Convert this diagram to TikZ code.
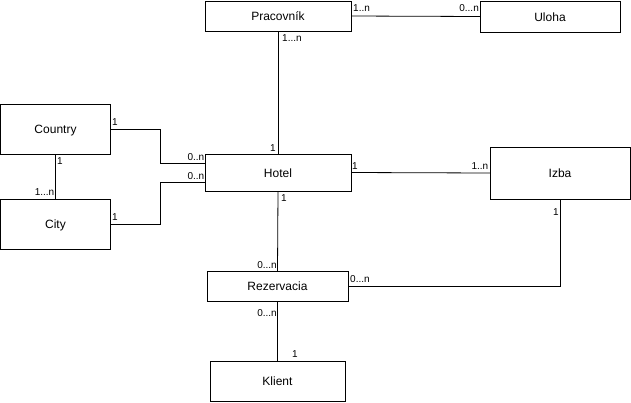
\documentclass[tikz,border=0pt]{standalone}
\usepackage{fontspec}
\setmainfont{Liberation Sans}
\tikzset{
	entity/.style={rectangle, draw, line width=0.8pt, inner sep=0pt, outer sep=0pt, text height=9pt, text depth=0pt, font=\fontsize{12}{14}\selectfont},
	mult/.style={inner sep=0pt, font=\fontsize{10}{12}\selectfont},
	link/.style={line width=0.8pt}
}
\begin{document}
	\begin{tikzpicture}[x=1pt, y=-1pt]
		\useasboundingbox (0,0) rectangle (631,402);

		\node[entity, minimum width=146, minimum height=30] (prac) at (278, 16) {Pracovník};
		\node[entity, minimum width=140, minimum height=31] (uloha) at (550, 16.5) {Uloha};
		\node[entity, minimum width=110, minimum height=50] (country) at (55.5, 129) {Country};
		\node[entity, minimum width=110, minimum height=50] (city) at (55.5, 224) {City};
		\node[entity, minimum width=146, minimum height=37] (hotel) at (278, 172.5) {Hotel};
		\node[entity, minimum width=140, minimum height=52] (izba) at (560, 173) {Izba};
		\node[entity, minimum width=141, minimum height=30] (rez) at (277.5, 286) {Rezervacia};
		\node[entity, minimum width=135, minimum height=40] (klient) at (277.5, 381) {Klient};

		\draw[link] (prac.east) -- (uloha.west);
		\draw[link] (prac.south) -- (hotel.north);
		\draw[link] (country.east) -- ++(50,0) |- ([yshift=9.5pt]hotel.west);
		\draw[link] (city.east) -- ++(50,0) |- ([yshift=-9.5pt]hotel.west);
		\draw[link] (country.south) -- (city.north);
		\draw[link] (hotel.east) -- (izba.west);
		\draw[link] (hotel.south) -- (rez.north);
		\draw[link] (izba.south) |- (rez.east);
		\draw[link] (rez.south) -- (klient.north);

		\node[mult, anchor=base west] (m1) at (353, 11.5) {1..n};
		\node[mult, anchor=base east] (m2) at (479, 11.5) {0...n};
		\node[mult, anchor=base west] (m3) at (282, 41) {1...n};
		\node[mult, anchor=base west] (m4) at (270, 151) {1};
		\node[mult, anchor=base east] (m5) at (204.5, 160) {0..n};
		\node[mult, anchor=base east] (m6) at (204.5, 179) {0..n};
		\node[mult, anchor=base west] (m7) at (112, 125) {1};
		\node[mult, anchor=base west] (m8) at (57, 164) {1};
		\node[mult, anchor=base east] (m9) at (54.5, 195) {1...n};
		\node[mult, anchor=base west] (m10) at (112, 220) {1};
		\node[mult, anchor=base west] (m11) at (352, 169) {1};
		\node[mult, anchor=base east] (m12) at (488.5, 169) {1..n};
		\node[mult, anchor=base west] (m13) at (281, 201) {1};
		\node[mult, anchor=base west] (m14) at (553, 215) {1};
		\node[mult, anchor=base east] (m15) at (277, 268) {0...n};
		\node[mult, anchor=base west] (m16) at (350, 282) {0...n};
		\node[mult, anchor=base east] (m17) at (277, 316) {0...n};
		\node[mult, anchor=base west] (m18) at (292, 357) {1};

	\end{tikzpicture}
\end{document}
